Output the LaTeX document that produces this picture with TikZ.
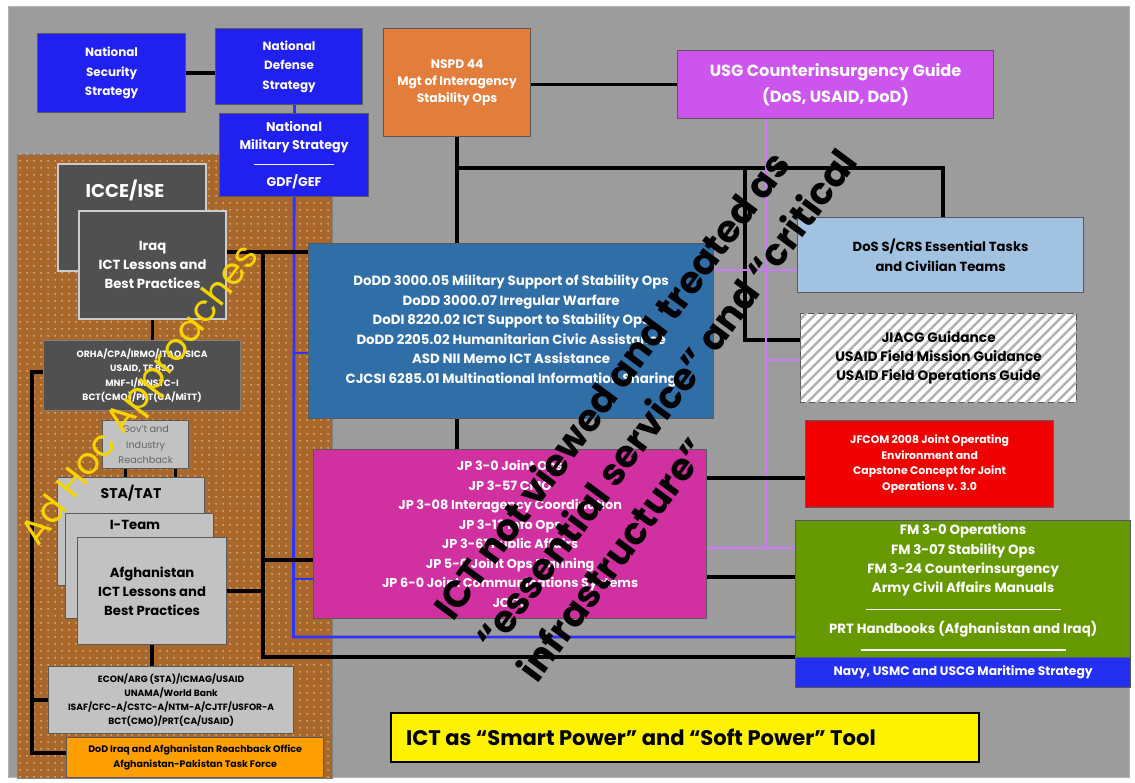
\documentclass[tikz,border=0pt]{standalone}
\usepackage{fontspec}
\setmainfont{Poppins}
\usetikzlibrary{patterns.meta, backgrounds}

\definecolor{bggray}{RGB}{156,156,156}
\definecolor{natblue}{RGB}{32,32,240}
\definecolor{nsorange}{RGB}{226,125,60}
\definecolor{usgviolet}{RGB}{204,85,238}
\definecolor{adbrown}{RGB}{168,104,44}
\definecolor{dkgray}{RGB}{80,80,80}
\definecolor{doddblue}{RGB}{48,110,168}
\definecolor{dosblue}{RGB}{162,194,226}
\definecolor{jfred}{RGB}{240,0,0}
\definecolor{jpmagenta}{RGB}{208,48,160}
\definecolor{fmgreen}{RGB}{102,153,0}
\definecolor{navyblue}{RGB}{36,48,240}
\definecolor{ltgray}{RGB}{194,194,194}
\definecolor{dodorange}{RGB}{255,160,0}
\definecolor{linevio}{RGB}{204,120,255}
\definecolor{lineblue}{RGB}{50,50,255}
\definecolor{adyellow}{RGB}{245,212,0}

\newcommand{\fz}[2]{\fontsize{#1}{#2}\selectfont}

\tikzset{
  box/.style={inner sep=0pt, draw=black!65, line width=0.7pt, align=center, anchor=north west},
  sz/.style 2 args={minimum width=#1*0.02cm, minimum height=#2*0.02cm},
  dkbox/.style={box, fill=dkgray, draw=black!20, line width=1.2pt, text=white},
  blk/.style={line width=2pt, black},
  bln/.style={line width=1.6pt, lineblue},
  vio/.style={line width=1.6pt, linevio},
  headline/.style={font=\bfseries\fz{21.3}{21.3}, inner sep=0pt, rotate=53.5, anchor=base west},
}

\begin{document}
\begin{tikzpicture}[x=0.02cm, y=-0.02cm]
\useasboundingbox (0,0) rectangle (1135,783);

% boxes
\node[box, sz={148}{79}, fill=natblue, text=white, font=\bfseries\fz{6.8}{11}] (nss) at (37,33) {National\\Security\\Strategy};
\node[box, sz={147}{76}, fill=natblue, text=white, font=\bfseries\fz{6.8}{11}] (nds) at (215,28) {National\\Defense\\Strategy};
\node[box, sz={149}{83}, fill=natblue, text=white, font=\bfseries\fz{7.2}{10}] (nms) at (219,113) {National\\Military Strategy\\[1pt]\rule[2pt]{1.6cm}{0.8pt}\\GDF/GEF};
\node[box, sz={147}{108}, fill=nsorange, text=white, font=\bfseries\fz{7}{9.5}] (nspd) at (383,28) {NSPD 44\\Mgt of Interagency\\Stability Ops};
\node[box, sz={316}{68}, fill=usgviolet, text=white, font=\bfseries\fz{9.2}{15}] (usg) at (677,50) {USG Counterinsurgency Guide\\(DoS, USAID, DoD)};

\node[dkbox, sz={148}{107}] (icce) at (57,163) {};
\node[text=white, font=\bfseries\fz{10.5}{12}] (iccetxt) at (125,190) {ICCE/ISE};
\node[dkbox, sz={147}{108}, font=\bfseries\fz{7.5}{11}] (iraq) at (78,210) {Iraq\\ICT Lessons and\\Best Practices};
\node[dkbox, sz={197}{70}, draw=black!50, line width=0.7pt, font=\bfseries\fz{5.2}{8.3}] (orha) at (43,340) {ORHA/CPA/IRMO/ITAO/SICA\\USAID, TF BSO\\MNF-I/MNSTC-I\\BCT(CMO)/PRT(CA/MiTT)};
\node[box, sz={86}{48}, fill=ltgray, text=black!60, font=\fz{5.5}{9}] (gov) at (102,420) {Gov't and\\Industry\\Reachback};
\node[box, sz={147}{108}, fill=ltgray] (sta) at (57,477) {};
\node[font=\bfseries\fz{8}{10}] (statxt) at (131,493) {STA/TAT};
\node[box, sz={148}{105}, fill=ltgray] (iteam) at (65,513) {};
\node[font=\bfseries\fz{7.5}{10}] (iteamtxt) at (135,525) {I-Team};
\node[box, sz={149}{107}, fill=ltgray, font=\bfseries\fz{7.5}{11}] (afg) at (77,537) {Afghanistan\\ICT Lessons and\\Best Practices};
\node[box, sz={245}{67}, fill=ltgray, font=\bfseries\fz{5.2}{8}] (econ) at (48,666) {ECON/ARG (STA)/ICMAG/USAID\\UNAMA/World Bank\\ISAF/CFC-A/CSTC-A/NTM-A/CJTF/USFOR-A\\BCT(CMO)/PRT(CA/USAID)};
\node[box, sz={257}{40}, fill=dodorange, font=\bfseries\fz{5.4}{8.5}] (dod) at (66,737) {DoD Iraq and Afghanistan Reachback Office\\Afghanistan-Pakistan Task Force};

\node[box, sz={405}{175}, fill=doddblue, text=white, font=\bfseries\fz{7.6}{11.1}] (dodd) at (308,243) {DoDD 3000.05 Military Support of Stability Ops\\DoDD 3000.07 Irregular Warfare\\DoDI 8220.02 ICT Support to Stability Ops\\DoDD 2205.02 Humanitarian Civic Assistance\\ASD NII Memo ICT Assistance\\CJCSI 6285.01 Multinational Information Sharing};
\node[box, sz={393}{169}, fill=jpmagenta, text=white, font=\bfseries\fz{7.3}{11.1}] (jp) at (313,449) {JP 3-0 Joint Ops\\JP 3-57 CMO\\JP 3-08 Interagency Coordination\\JP 3-13 Info Ops\\JP 3-61 Public Affairs\\JP 5-0 Joint Ops Planning\\JP 6-0 Joint Communications Systems\\JOCS};

\node[box, sz={286}{75}, fill=dosblue, font=\bfseries\fz{7.5}{11.3}] (dos) at (797,217) {DoS S/CRS Essential Tasks\\and Civilian Teams};
\node[box, sz={276}{89}, fill=white, postaction={pattern={Lines[angle=45,distance=4pt,line width=1.4pt]}, pattern color=gray!60}, font=\bfseries\fz{7.8}{10.8}] (jiacg) at (800,313) {JIACG Guidance\\USAID Field Mission Guidance\\USAID Field Operations Guide};
\node[box, sz={248}{87}, fill=jfred, text=white, font=\bfseries\fz{6.2}{9}] (jfcom) at (805,420) {JFCOM 2008 Joint Operating\\Environment and\\Capstone Concept for Joint\\Operations v. 3.0};
\node[box, sz={335}{137}, fill=fmgreen, text=white, font=\bfseries\fz{7.6}{11}] (fm) at (795,520) {FM 3-0 Operations\\FM 3-07 Stability Ops\\FM 3-24 Counterinsurgency\\Army Civil Affairs Manuals\\[1pt]\rule[2pt]{3.9cm}{0.8pt}\\PRT Handbooks (Afghanistan and Iraq)\\[1pt]\rule[2pt]{4.1cm}{0.8pt}};
\node[box, sz={335}{30}, fill=navyblue, text=white, font=\bfseries\fz{7}{9}] (navy) at (795,657) {Navy, USMC and USCG Maritime Strategy};

\node[box, sz={588}{49}, fill=yellow, draw=black, line width=1.4pt] (ictbox) at (390,712) {};
\node[anchor=west, font=\bfseries\fz{12}{13}] (icttxt) at (400,737) {ICT as “Smart Power” and “Soft Power” Tool};

% junctions
\coordinate (jn1) at (456.5,168);
\coordinate (jn2) at (745,168);
\coordinate (jn3) at (943,168);
\coordinate (ja) at (745,340);
\coordinate (va) at (766,548);
\coordinate (vb) at (766,270);
\coordinate (vc) at (766,360);
\coordinate (k1) at (750,478);
\coordinate (k2) at (750,577);
\coordinate (b0) at (293.5,637);
\coordinate (b1) at (293.5,353);
\coordinate (b2) at (293.5,579);
\coordinate (c0) at (263,657);
\coordinate (c1) at (263,252);
\coordinate (c2) at (263,560);
\coordinate (d0) at (32,753);
\coordinate (d1) at (32,372);

\begin{scope}[on background layer]
\draw[fill=bggray, draw=gray!60] (8,6) rectangle (1129,777);
\draw[fill=adbrown, draw=black!50, postaction={pattern={Dots[radius=0.5pt,distance=4pt]}, pattern color=orange!35!white}] (17,154) rectangle (332,778);
\draw[blk] (nss.east) -- (nss.east -| nds.west);
\draw[bln] (nds.south -| nms.north) -- (nms.north);
\draw[blk] (nspd.east |- usg.west) -- (usg.west);
\draw[blk] (nspd.south) -- (nspd.south |- dodd.north);
\draw[blk] (dodd.south -| nspd.south) -- (jp.north -| nspd.south);
\draw[blk] (jn1) -- (jn3) -- (jn3 |- dos.north);
\draw[blk] (jn2) -- (ja) -- (ja -| jiacg.west);
\draw[vio] (usg.south -| va) -- (va);
\draw[vio] (jp.east |- va) -- (va -| fm.west);
\draw[vio] (dodd.east |- vb) -- (vb -| dos.west);
\draw[vio] (vc) -- (vc -| jiacg.west);
\draw[blk] (jp.east |- k1) -- (k1 -| jfcom.west);
\draw[blk] (jp.east |- k2) -- (k2 -| fm.west);
\draw[bln] (nms.south) -- (b0) -- (b0 -| fm.west);
\draw[bln] (b1) -- (b1 -| dodd.west);
\draw[bln] (b2) -- (b2 -| jp.west);
\draw[blk] (iraq.east |- c1) -- (c1 -| dodd.west);
\draw[blk] (c1) -- (c0) -- (c0 -| fm.west);
\draw[blk] (c2) -- (c2 -| jp.west);
\draw[blk] (afg.east) -- (afg.east -| c0);
\draw[blk] (iraq.south) -- (iraq.south |- orha.north);
\draw[blk] (d1 -| orha.west) -- (d1) -- (d0) -- (d0 -| dod.west);
\draw[blk] (econ.west -| d0) -- (econ.west);
\draw[blk] ([xshift=-0.4cm]gov.south) -- ([xshift=-0.4cm]gov.south |- sta.north);
\draw[blk] ([xshift=0.6cm]gov.south) -- ([xshift=0.6cm]gov.south |- iteam.north);
\draw[blk] (afg.south) -- (afg.south |- econ.north);
\end{scope}

% slanted texts
\node[text=adyellow, font=\fz{21}{21}, inner sep=0pt, rotate=52.7, anchor=base west] (adhoc) at (38,548) {Ad Hoc Approaches};
\node[headline] (hl1) at (453,623) {ICT not viewed and treated as};
\node[headline] (hl2) at (495,654) {“essential service” and “critical};
\node[headline] (hl3) at (537,685) {infrastructure”};
\end{tikzpicture}
\end{document}
